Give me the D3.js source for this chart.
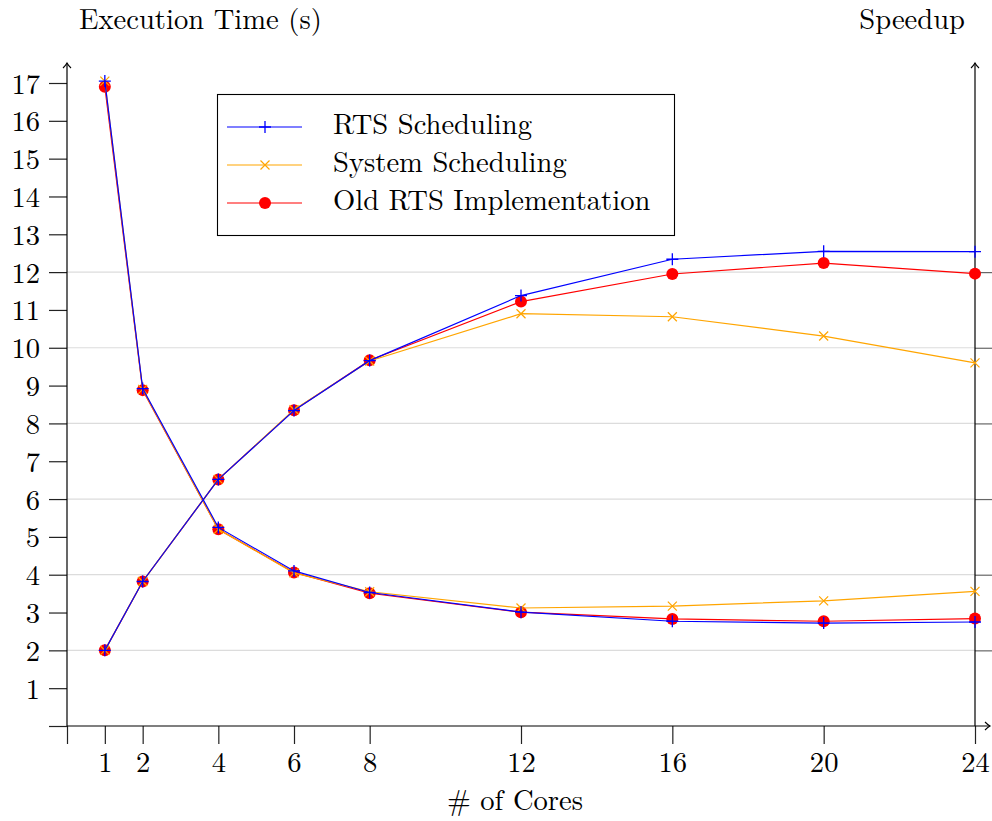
<!DOCTYPE html>
<html><head><meta charset="utf-8">
<script src="https://cdn.jsdelivr.net/npm/d3@7"></script>
<style>body{margin:0;background:#fff}svg text{font-family:"Latin Modern Roman","Liberation Serif",serif;fill:#000}</style>
</head><body><svg id="c" width="992" height="821"></svg>
<script>
const cores = [1, 2, 4, 6, 8, 12, 16, 20, 24];
const xTicks = [0, 1, 2, 4, 6, 8, 12, 16, 20, 24];
const yTicks = [0,1,2,3,4,5,6,7,8,9,10,11,12,13,14,15,16,17];
const rightTicks = [2, 4, 6, 8, 10, 12];
const seriesNames = ["RTS Scheduling", "System Scheduling", "Old RTS Implementation"];
// execution time (s)
const timeRTS    = [17.05, 8.92, 5.25, 4.10, 3.53, 3.01, 2.77, 2.72, 2.75];
const timeSystem = [17.05, 8.90, 5.20, 4.05, 3.55, 3.12, 3.17, 3.31, 3.56];
const timeOld    = [16.90, 8.88, 5.20, 4.06, 3.51, 3.01, 2.83, 2.77, 2.84];
// speedup
const spRTS    = [2.00, 3.82, 6.52, 8.34, 9.66, 11.38, 12.34, 12.55, 12.54];
const spSystem = [2.00, 3.82, 6.52, 8.36, 9.65, 10.90, 10.82, 10.31, 9.60];
const spOld    = [2.00, 3.82, 6.52, 8.35, 9.67, 11.22, 11.95, 12.24, 11.96];

const svg = d3.select("#c");
const x = d3.scaleLinear().domain([0, 24]).range([67, 975]);
const y = d3.scaleLinear().domain([0, 17]).range([726, 83]);
const yR = d3.scaleLinear().domain([0, 17]).range([726, 83]);
const fs = 28.6;

// grid (right axis)
svg.append("g").selectAll("line").data(rightTicks).join("line")
  .attr("x1", x(0)).attr("x2", x(24)).attr("y1", d=>yR(d)).attr("y2", d=>yR(d))
  .attr("stroke", "#dcdcdc").attr("stroke-width", 1.2);

// left axis
const gl = svg.append("g").attr("transform", `translate(${x(0)},0)`)
  .call(d3.axisLeft(y).tickValues(yTicks).tickSize(18).tickPadding(9).tickFormat(d=> d===0 ? "" : d));
gl.select(".domain").remove();
gl.attr("font-family", null).attr("font-size", null);
gl.selectAll(".tick line").attr("stroke", "#222").attr("stroke-width", 1.2);
gl.selectAll(".tick text").attr("font-size", fs).attr("dy", 10);

// bottom axis
const gb = svg.append("g").attr("transform", `translate(0,${y(0)})`)
  .call(d3.axisBottom(x).tickValues(xTicks).tickSize(18).tickFormat(d=> d===0 ? "" : d));
gb.select(".domain").remove();
gb.attr("font-family", null).attr("font-size", null);
gb.selectAll(".tick line").attr("stroke", "#222").attr("stroke-width", 1.2);
gb.selectAll(".tick text").attr("font-size", fs).attr("y", 46).attr("dy", 0);

// right axis ticks
const gr = svg.append("g").attr("transform", `translate(${x(24)},0)`)
  .call(d3.axisRight(yR).tickValues(rightTicks).tickSize(17).tickFormat(""));
gr.select(".domain").remove();
gr.selectAll(".tick line").attr("stroke", "#666").attr("stroke-width", 1.2);

// axis lines with arrows
function axLine(x1,y1,x2,y2){
  svg.append("line").attr("x1",x1).attr("y1",y1).attr("x2",x2).attr("y2",y2).attr("stroke","#000").attr("stroke-width",1.2);
}
function arrowHead(px,py,dir){
  const s=4;
  let p;
  if(dir==="up") p=`M${px-s},${py+s+1} Q${px-1},${py+2} ${px},${py} Q${px+1},${py+2} ${px+s},${py+s+1}`;
  else p=`M${px-s-1},${py-s} Q${px-2},${py-1} ${px},${py} Q${px-2},${py+1} ${px-s-1},${py+s}`;
  svg.append("path").attr("d",p).attr("fill","none").attr("stroke","#000").attr("stroke-width",1.1);
}
axLine(x(0), y(0), x(0), 63); arrowHead(x(0), 63, "up");
axLine(x(24), y(0), x(24), 63); arrowHead(x(24), 63, "up");
axLine(x(0), y(0), 990, y(0)); arrowHead(990, y(0), "right");

const colors = ["#0000ff", "#ffa500", "#ff0000"];
const timeData = [timeRTS, timeSystem, timeOld];
const spData = [spRTS, spSystem, spOld];

function marker(g, idx, cx, cy){
  const c = colors[idx];
  if(idx===0){
    g.append("path").attr("d", `M${cx-6},${cy} L${cx+6},${cy} M${cx},${cy-6} L${cx},${cy+6}`).attr("stroke", c).attr("stroke-width", 1.3);
  } else if(idx===1){
    g.append("path").attr("d", `M${cx-4.5},${cy-4.5} L${cx+4.5},${cy+4.5} M${cx-4.5},${cy+4.5} L${cx+4.5},${cy-4.5}`).attr("stroke", c).attr("stroke-width", 1.2);
  } else {
    g.append("circle").attr("cx", cx).attr("cy", cy).attr("r", 6).attr("fill", c);
  }
}

const order = [2, 1, 0];
const line = (sc) => d3.line().x((d,i)=>x(cores[i])).y(d=>sc(d));
order.forEach(idx=>{
  const g = svg.append("g");
  [[timeData[idx], y], [spData[idx], yR]].forEach(([vals, sc])=>{
    g.append("path").datum(vals).attr("d", line(sc)).attr("fill","none").attr("stroke", colors[idx]).attr("stroke-width", 1.2);
    vals.forEach((v,i)=>marker(g, idx, x(cores[i]), sc(v)));
  });
});

// legend
const lg = svg.append("g");
lg.append("rect").attr("x", 217.5).attr("y", 94.5).attr("width", 457).attr("height", 141).attr("fill", "#fff").attr("stroke", "#000").attr("stroke-width", 1.1);
const legY = [127, 165, 203];
seriesNames.forEach((n, i)=>{
  lg.append("line").attr("x1", 227).attr("x2", 302).attr("y1", legY[i]).attr("y2", legY[i]).attr("stroke", colors[i]).attr("stroke-width", 1.2);
  marker(lg, i, 265, legY[i]);
  lg.append("text").attr("x", 333).attr("y", legY[i] + 7).attr("font-size", fs).text(n);
});

// titles
svg.append("text").attr("x", 79).attr("y", 29).attr("font-size", fs).text("Execution Time (s)");
svg.append("text").attr("x", 965).attr("y", 29).attr("text-anchor", "end").attr("font-size", fs).text("Speedup");
svg.append("text").attr("x", 515).attr("y", 810).attr("text-anchor", "middle").attr("font-size", fs).text("# of Cores");
</script></body></html>
